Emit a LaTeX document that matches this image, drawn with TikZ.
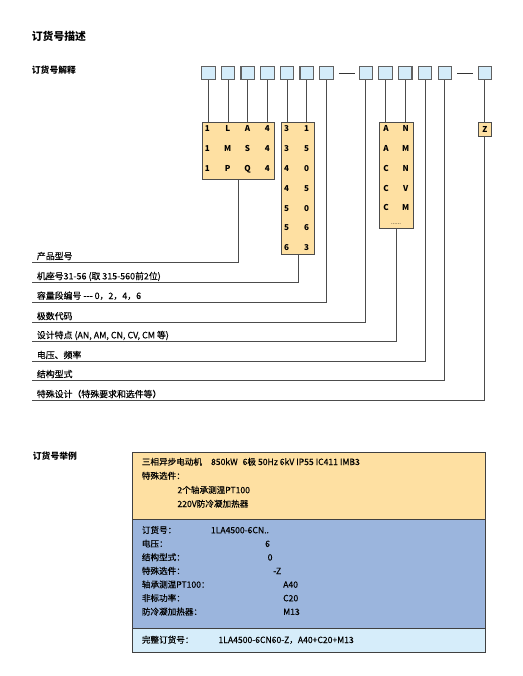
\documentclass[tikz,border=0pt]{standalone}
\usepackage{fontspec}
\setmainfont{Noto Sans CJK SC}
\newfontfamily\semib{Noto Sans CJK SC}[FakeBold=0.25]
\usetikzlibrary{calc, positioning}

\definecolor{boxblue}{HTML}{D4ECFA}
\definecolor{boxorange}{HTML}{FEE0A2}
\definecolor{exblue}{HTML}{9BB5DD}
\definecolor{exlight}{HTML}{D6EDFA}

\begin{document}
\begin{tikzpicture}[x=1pt, y=-1pt,
    codebox/.style={draw=black!62, fill=boxblue, line width=1.1pt, minimum width=13.5pt, minimum height=13pt, inner sep=0pt},
    grpbox/.style={draw=black!70, fill=boxorange, line width=0.9pt, inner sep=0pt, anchor=north west},
    exbox/.style={draw=black!75, line width=0.9pt, inner sep=0pt, anchor=north west, minimum width=352.5pt},
    ch/.style={font=\fontsize{8.1}{9}\selectfont\bfseries, text height=5.8pt, text depth=0pt, inner sep=0pt},
    link/.style={black!70, line width=0.8pt},
    lbl/.style={font=\semib\fontsize{8.9}{9}\selectfont, anchor=base west, inner sep=0pt},
    txt/.style={font=\semib\fontsize{8.6}{9}\selectfont, anchor=base west, inner sep=0pt}]
    \useasboundingbox (0,0) rectangle (522,676);

    % titles
    \node[font=\fontsize{10.8}{12}\selectfont\bfseries, anchor=base west, inner sep=0pt] (title) at (31.7,40.4) {订货号描述};
    \node[font=\fontsize{8.8}{10}\selectfont\bfseries, anchor=base west, inner sep=0pt] (sub1) at (31.7,73.4) {订货号解释};
    \node[font=\fontsize{8.8}{10}\selectfont\bfseries, anchor=base west, inner sep=0pt] (sub2) at (32.7,459.4) {订货号举例};

    % code boxes
    \foreach \x [count=\i] in {208.3,228,247.7,267.3,287,306.7,326.5,365.8,385.5,405.2,425,444.8,484.8}
        \node[codebox] (b\i) at (\x,73) {};
    \draw[link, black!80, shorten <=5pt, shorten >=4pt] (b7.east) -- (b8.west);
    \draw[link, black!80, shorten <=5pt, shorten >=5pt] (b12.east) -- (b13.west);

    % orange groups
    \node[grpbox, minimum width=72.6pt, minimum height=56.7pt] (g1) at (201.7,122.3) {};
    \node[grpbox, minimum width=33pt, minimum height=131.7pt] (g2) at (281,122.3) {};
    \node[grpbox, minimum width=33.4pt, minimum height=106pt] (g3) at (379.3,122.3) {};
    \node[draw=black!70, fill=boxorange, line width=0.9pt, minimum width=13.4pt, minimum height=13.3pt, inner sep=0pt, ch] (zb) at (484.8,129.4) {Z};

    \foreach \p/\q/\s/\t [count=\r] in {1/L/A/4, 1/M/S/4, 1/P/Q/4} {
        \node[ch] (g1a\r) at (207.3,109+20*\r) {\p};
        \node[ch] (g1b\r) at (227.7,109+20*\r) {\q};
        \node[ch] (g1c\r) at (247.5,109+20*\r) {\s};
        \node[ch] (g1d\r) at (267.3,109+20*\r) {\t};
    }
    \foreach \p/\q [count=\r] in {3/1, 3/5, 4/0, 4/5, 5/0, 5/6, 6/3} {
        \node[ch] (g2a\r) at (286.7,109.2+19.8*\r) {\p};
        \node[ch] (g2b\r) at (306.7,109.2+19.8*\r) {\q};
    }
    \foreach \p/\q [count=\r] in {A/N, A/M, C/N, C/V, C/M} {
        \node[ch] (g3a\r) at (386,109.4+19.7*\r) {\p};
        \node[ch] (g3b\r) at (405.7,109.4+19.7*\r) {\q};
    }
    \node[ch, font=\fontsize{6}{6}\selectfont] (g3dots) at (396,222) {......};

    % connectors into the groups
    \foreach \i in {1,2,3,4}
        \draw[link] (b\i.south) -- (b\i.south |- g1.north);
    \foreach \i in {5,6}
        \draw[link] (b\i.south) -- (b\i.south |- g2.north);
    \foreach \i in {9,10}
        \draw[link] (b\i.south) -- (b\i.south |- g3.north);
    \draw[link] (b13.south) -- (zb.north);

    % legend lines
    \foreach \y [count=\i] in {262.7,282.7,302.3,322.7,341.7,361.7,380.7,400.7}
        \coordinate (h\i) at (32,\y);
    \draw[link] (g1.south) |- (h1);
    \draw[link] (g2.south) |- (h2);
    \draw[link] (b7.south) |- (h3);
    \draw[link] (b8.south) |- (h4);
    \draw[link] (g3.south) |- (h5);
    \draw[link] (b11.south) |- (h6);
    \draw[link] (b12.south) |- (h7);
    \draw[link] (zb.south) |- (h8);

    \node[lbl] (l1) at ($(h1)+(4.7,-3.3)$) {产品型号};
    \node[lbl] (l2) at ($(h2)+(4.7,-3.3)$) {机座号31-56 (取 315-560前2位)};
    \node[lbl] (l3) at ($(h3)+(4.7,-3.3)$) {容量段编号 -{}-{}- 0，2，4，6};
    \node[lbl] (l4) at ($(h4)+(4.7,-3.3)$) {极数代码};
    \node[lbl] (l5) at ($(h5)+(4.7,-3.3)$) {设计特点 (AN, AM, CN, CV, CM 等)};
    \node[lbl] (l6) at ($(h6)+(4.7,-3.3)$) {电压、频率};
    \node[lbl] (l7) at ($(h7)+(4.7,-3.3)$) {结构型式};
    \node[lbl] (l8) at ($(h8)+(4.7,-3.3)$) {特殊设计（特殊要求和选件等）};

    % example box
    \node[exbox, fill=boxorange, minimum height=67.3pt] (ex1) at (132,451.7) {};
    \node[exbox, fill=exblue, minimum height=109.3pt] (ex2) at (132,519) {};
    \node[exbox, fill=exlight, minimum height=23.4pt] (ex3) at (132,628.3) {};

    \node[txt] (d1) at (141.7,465) {三相异步电动机\hspace{9pt}850kW\hspace{5pt}6极 50Hz 6kV IP55 IC411 IMB3};
    \node[txt] (d2) at (141.7,479) {特殊选件：};
    \node[txt] (d3) at (177.3,493.2) {2个轴承测温PT100};
    \node[txt] (d4) at (177.3,507) {220V防冷凝加热器};

    \foreach \k/\v/\vx [count=\r] in {订货号：/1LA4500-6CN../210.7, 电压：/6/265, 结构型式：/0/267.5,
        特殊选件：/-Z/273, 轴承测温PT100：/A40/283, 非标功率：/C20/283, 防冷凝加热器：/M13/283} {
        \node[txt] (k\r) at (141.7,519.7+13.6*\r) {\k};
        \node[txt] (v\r) at (\vx,519.7+13.6*\r) {\v};
    }

    \node[txt] (full) at (141.7,643) {完整订货号：};
    \node[txt] (fullv) at (218.3,643) {1LA4500-6CN60-Z，A40+C20+M13};
\end{tikzpicture}
\end{document}
